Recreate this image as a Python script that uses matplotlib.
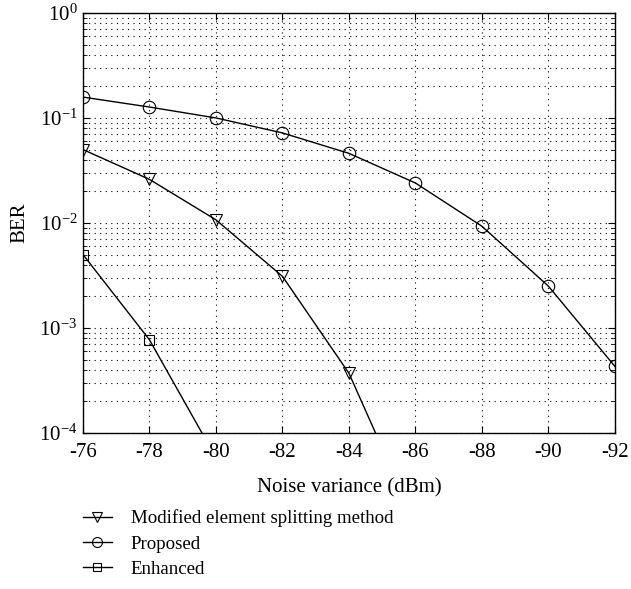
import numpy as np
import matplotlib
matplotlib.use('Agg')
import matplotlib.pyplot as plt
from matplotlib.ticker import LogLocator, NullFormatter

plt.rcParams['font.family'] = ['Liberation Serif', 'DejaVu Serif']
plt.rcParams['axes.unicode_minus'] = False

# data
noise = [-76, -78, -80, -82, -84, -86, -88, -90, -92]
proposed = [0.158, 0.127, 0.100, 0.072, 0.046, 0.024, 0.0093, 0.0025, 0.00043]
modified_x = [-76, -78, -80, -82, -84, -86]
modified = [0.050, 0.026, 0.0107, 0.0031, 0.00037, 0.000014]
enhanced_x = [-76, -78, -80]
enhanced = [0.005, 0.00077, 0.000058]

fig = plt.figure(figsize=(6.31, 5.89), dpi=100)
ax = fig.add_axes([0.1315, 0.265, 0.843, 0.713])

style = dict(color='black', lw=1.0, markerfacecolor='none', markeredgecolor='black',
             markeredgewidth=0.8)
ax.plot(modified_x, modified, marker='v', markersize=9, label='Modified element splitting method', **style)
ax.plot(noise, proposed, marker='o', markersize=9, label='Proposed', **style)
ax.plot(enhanced_x, enhanced, marker='s', markersize=7, label='Enhanced', **style)

ax.set_yscale('log')
ax.set_ylim(1e-4, 1)
ax.set_xlim(-76, -92)
ax.set_xticks(noise)
ax.set_xticklabels([str(v) for v in noise])
ax.yaxis.set_major_locator(LogLocator(base=10, numticks=10))
ax.yaxis.set_minor_locator(LogLocator(base=10, subs=np.arange(2, 10), numticks=10))
ax.yaxis.set_minor_formatter(NullFormatter())

ax.grid(True, which='major', linestyle=(0, (1, 4)), color='black', lw=0.8)
ax.grid(True, which='minor', axis='y', linestyle=(0, (1, 4)), color='black', lw=0.8)

ax.tick_params(which='both', direction='in', top=True, right=True, labelsize=15)
ax.tick_params(which='major', length=5)
ax.tick_params(which='minor', length=3)
ax.tick_params(axis='x', pad=7)
ax.tick_params(axis='y', pad=4)
for s in ax.spines.values():
    s.set_linewidth(1.0)

ax.set_xlabel('Noise variance (dBm)', fontsize=15, labelpad=12)
ax.set_ylabel('BER', fontsize=15, labelpad=7)

leg = fig.legend(loc='upper left', bbox_to_anchor=(0.131, 0.135), frameon=False,
                 fontsize=13.6, handlelength=1.55, handletextpad=1.0, labelspacing=0.42,
                 borderaxespad=0, borderpad=0, markerscale=0.8)

fig.savefig('out.png', dpi=100)
